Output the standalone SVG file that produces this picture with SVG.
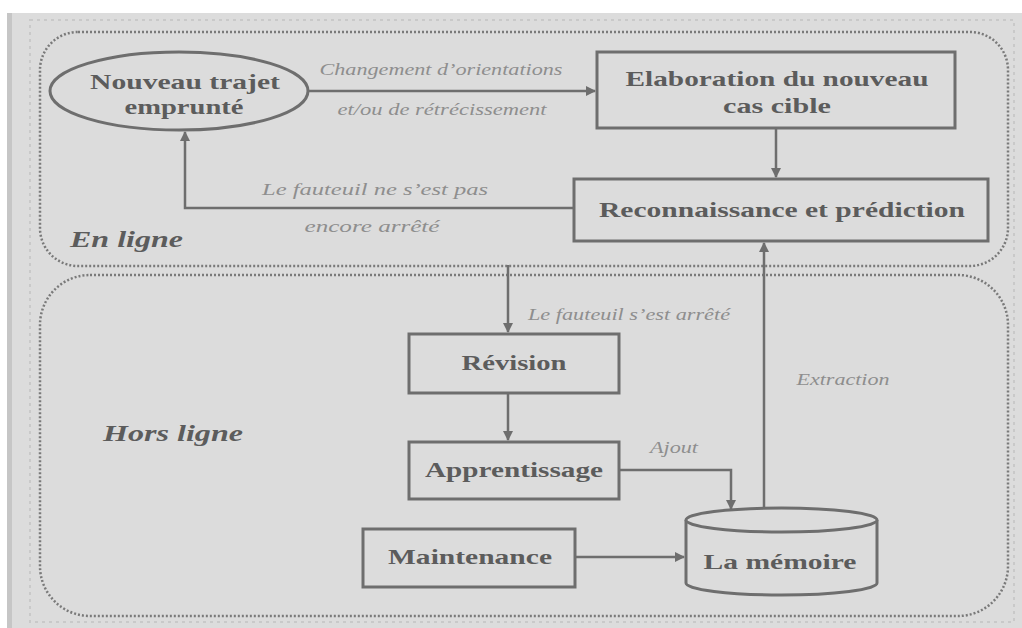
<svg xmlns="http://www.w3.org/2000/svg" width="1022" height="628" viewBox="0 0 1022 628">
<defs>
<style>
.bg{fill:#dcdcdc}
.zone{fill:none;stroke:#7a7a7a;stroke-width:2.5;stroke-dasharray:2 2}
.faint{fill:none;stroke:#c9c9c9;stroke-width:2;stroke-dasharray:3 4}
.box{fill:#dcdcdc;stroke:#6e6e6e;stroke-width:3}
.lbl{font-family:"Liberation Serif",serif;font-weight:bold;font-size:22px;fill:#5c5c5c;text-anchor:middle}
.zl{font-family:"Liberation Serif",serif;font-weight:bold;font-style:italic;font-size:24px;fill:#5c5c5c}
.it{font-family:"Liberation Serif",serif;font-style:italic;font-size:16px;fill:#8e8e8e;text-anchor:middle}
.edge{fill:none;stroke:#6e6e6e;stroke-width:2.5}
</style>
<marker id="ah" viewBox="0 0 10 10" refX="9" refY="5" markerWidth="4" markerHeight="4" orient="auto" markerUnits="strokeWidth">
<path d="M0,0 L10,5 L0,10 z" fill="#6e6e6e"/>
</marker>
</defs>
<rect x="0" y="0" width="1022" height="628" fill="#ffffff"/>
<rect class="bg" x="7" y="13" width="1015" height="615"/>
<rect x="7" y="13" width="5" height="615" fill="#c6c6c6"/>
<rect class="faint" x="30" y="20" width="984" height="602"/>

<g id="zone-en-ligne">
<rect class="zone" x="40" y="32" width="968" height="234" rx="38" ry="38"/>
<text class="zl" x="70" y="247" textLength="113" lengthAdjust="spacingAndGlyphs">En ligne</text>
</g>
<g id="zone-hors-ligne">
<rect class="zone" x="40" y="275" width="968" height="341" rx="50" ry="50"/>
<text class="zl" x="103" y="441" textLength="140" lengthAdjust="spacingAndGlyphs">Hors ligne</text>
</g>

<g id="connectors">
<line class="edge" x1="308" y1="91" x2="595" y2="91" marker-end="url(#ah)"/>
<line class="edge" x1="776" y1="128" x2="776" y2="177" marker-end="url(#ah)"/>
<polyline class="edge" points="574,208 185,208 185,132" marker-end="url(#ah)"/>
<line class="edge" x1="508" y1="265" x2="508" y2="332" marker-end="url(#ah)"/>
<line class="edge" x1="508" y1="393" x2="508" y2="440" marker-end="url(#ah)"/>
<polyline class="edge" points="619,470 731,470 731,509" marker-end="url(#ah)"/>
<line class="edge" x1="575" y1="557" x2="684" y2="557" marker-end="url(#ah)"/>
<line class="edge" x1="764" y1="508" x2="764" y2="243" marker-end="url(#ah)"/>
<text class="it" x="441" y="75" textLength="243" lengthAdjust="spacingAndGlyphs">Changement d’orientations</text>
<text class="it" x="442" y="115" textLength="209" lengthAdjust="spacingAndGlyphs">et/ou de rétrécissement</text>
<text class="it" x="375" y="195" textLength="226" lengthAdjust="spacingAndGlyphs">Le fauteuil ne s’est pas</text>
<text class="it" x="372" y="232" textLength="135" lengthAdjust="spacingAndGlyphs">encore arrêté</text>
<text class="it" x="629" y="320" textLength="202" lengthAdjust="spacingAndGlyphs">Le fauteuil s’est arrêté</text>
<text class="it" x="843" y="385" textLength="93" lengthAdjust="spacingAndGlyphs">Extraction</text>
<text class="it" x="674" y="453" textLength="48" lengthAdjust="spacingAndGlyphs">Ajout</text>
</g>

<g id="node-nouveau-trajet">
<ellipse class="box" cx="179" cy="91" rx="129" ry="39"/>
<text class="lbl" x="185" y="89" textLength="190" lengthAdjust="spacingAndGlyphs">Nouveau trajet</text>
<text class="lbl" x="184" y="114" textLength="119" lengthAdjust="spacingAndGlyphs">emprunté</text>
</g>
<g id="node-elaboration">
<rect class="box" x="597" y="52" width="358" height="76"/>
<text class="lbl" x="777" y="86" textLength="303" lengthAdjust="spacingAndGlyphs">Elaboration du nouveau</text>
<text class="lbl" x="777" y="113" textLength="108" lengthAdjust="spacingAndGlyphs">cas cible</text>
</g>
<g id="node-reconnaissance">
<rect class="box" x="574" y="179" width="414" height="62"/>
<text class="lbl" x="782" y="217" textLength="366" lengthAdjust="spacingAndGlyphs">Reconnaissance et prédiction</text>
</g>
<g id="node-revision">
<rect class="box" x="409" y="334" width="210" height="59"/>
<text class="lbl" x="514" y="370" textLength="105" lengthAdjust="spacingAndGlyphs">Révision</text>
</g>
<g id="node-apprentissage">
<rect class="box" x="409" y="442" width="210" height="57"/>
<text class="lbl" x="514" y="477" textLength="178" lengthAdjust="spacingAndGlyphs">Apprentissage</text>
</g>
<g id="node-maintenance">
<rect class="box" x="363" y="529" width="212" height="58"/>
<text class="lbl" x="470" y="564" textLength="164" lengthAdjust="spacingAndGlyphs">Maintenance</text>
</g>
<g id="node-memoire">
<path class="box" d="M686,520 L686,583 A95.5,12 0 0 0 877,583 L877,520 A95.5,12 0 0 0 686,520 Z"/>
<path class="box" fill="none" d="M686,520 A95.5,12 0 0 0 877,520"/>
<text class="lbl" x="780" y="569" textLength="153" lengthAdjust="spacingAndGlyphs">La mémoire</text>
</g>
</svg>
